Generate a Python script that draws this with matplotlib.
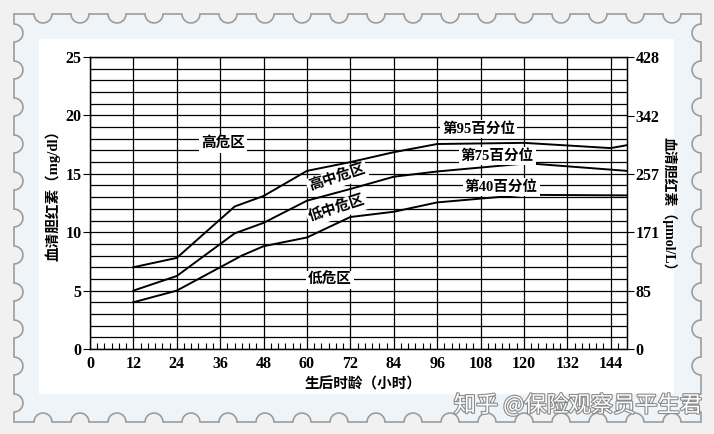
import numpy as np
import matplotlib
matplotlib.use("Agg")
import matplotlib.pyplot as plt
from matplotlib.patches import Polygon, Rectangle
import matplotlib.patheffects as pe

plt.rcParams['font.family'] = ['Liberation Serif', 'Noto Sans CJK SC', 'DejaVu Sans']
plt.rcParams['font.weight'] = 'bold'

# percentile curves (hours after birth, serum bilirubin mg/dl)
hours95 = [12, 24, 40, 48, 60, 72, 84, 96, 120, 144, 148.5]
p95 = [7.0, 7.8, 12.2, 13.1, 15.25, 16.0, 16.85, 17.55, 17.65, 17.2, 17.45]
hours75 = [12, 24, 40, 48, 60, 72, 84, 96, 121, 148.5]
p75 = [5.0, 6.25, 9.9, 10.8, 12.7, 13.7, 14.75, 15.2, 15.9, 15.25]
hours40 = [12, 24, 42, 48, 60, 72, 84, 96, 120, 148.5]
p40 = [4.0, 5.0, 8.0, 8.8, 9.55, 11.3, 11.75, 12.55, 13.2, 13.15]

xticks = list(range(0, 145, 12))
yticks = [0, 5, 10, 15, 20, 25]
umol_ticks = [0, 85, 171, 257, 342, 428]

zones = ['高危区', '高中危区', '低中危区', '低危区']
zone_pos = [(36.8, 17.6, 0), (68.4, 14.6, 18), (68.4, 11.95, 18), (66.3, 5.9, 0)]
pct_labels = ['第95百分位', '第75百分位', '第40百分位']
pct_pos = [(107.5, 18.85), (112.6, 16.5), (113.7, 13.85)]

W, H = 714, 434
fig = plt.figure(figsize=(W / 100, H / 100), dpi=100)
fig.patch.set_facecolor('#f1f1f1')

# stamp-like frame
bg = fig.add_axes([0, 0, 1, 1], zorder=0)
bg.set_xlim(0, W)
bg.set_ylim(H, 0)
bg.axis('off')


def notched_edge(a, b, n, r=9, step=37):
    a, b, n = np.array(a, float), np.array(b, float), np.array(n, float)
    L = np.linalg.norm(b - a)
    d = (b - a) / L
    k = int(L // step)
    off = (L - (k - 1) * step) / 2
    pts = [a]
    t = np.linspace(np.pi, 0, 12)
    for i in range(k):
        c = a + (off + i * step) * d
        for tt in t:
            pts.append(c + r * np.cos(tt) * d + r * np.sin(tt) * n)
    return pts


x0, y0, x1, y1 = 14, 14, 701, 422
pts = []
pts += notched_edge((x0, y0), (x1, y0), (0, 1))
pts += notched_edge((x1, y0), (x1, y1), (-1, 0))
pts += notched_edge((x1, y1), (x0, y1), (0, -1))
pts += notched_edge((x0, y1), (x0, y0), (1, 0))
bg.add_patch(Polygon(np.array(pts), closed=True, facecolor='#eef4f8',
                     edgecolor='#9c9c9c', linewidth=1.2))
bg.add_patch(Rectangle((39, 39), 635, 355, facecolor='white', edgecolor='none'))

ax = fig.add_axes([90 / W, 1 - 349 / H, (627 - 90) / W, (349 - 57) / H], zorder=2)
ax.patch.set_alpha(0)
ax.set_xlim(0, 148.5)
ax.set_ylim(0, 25)
ax.set_xticks(xticks)
ax.set_xticks(np.arange(0, 148, 2), minor=True)
ax.set_yticks(yticks)
ax.set_yticks(range(0, 26), minor=True)
ax.grid(which='major', axis='x', color='black', linewidth=0.9)
ax.grid(which='both', axis='y', color='black', linewidth=0.9)
ax.tick_params(axis='x', which='major', length=0, pad=5, labelsize=11.5)
ax.tick_params(axis='x', which='minor', direction='in', length=4, width=0.8)
ax.tick_params(axis='y', which='major', direction='out', length=5, width=0.8, labelsize=11.5, pad=1)
ax.tick_params(axis='y', which='minor', length=0)
for s in ax.spines.values():
    s.set_linewidth(0.9)

for hx, py in [(hours95, p95), (hours75, p75), (hours40, p40)]:
    ax.plot(hx, py, color='black', linewidth=1.4, clip_on=False)

box = dict(facecolor='white', edgecolor='none', pad=1.5)
for z, (zx, zy, rot) in zip(zones, zone_pos):
    ax.text(zx, zy, z, ha='center', va='center', rotation=rot, fontsize=10.5,
            bbox=box, zorder=4)
for lab, (lx, ly) in zip(pct_labels, pct_pos):
    ax.text(lx, ly, lab, ha='center', va='center', fontsize=10.5, bbox=box, zorder=4)

ax2 = ax.twinx()
ax2.set_ylim(0, 428)
ax2.set_yticks(umol_ticks)
ax2.tick_params(axis='y', direction='out', length=5, width=0.8, labelsize=11.5, pad=1)
for s in ax2.spines.values():
    s.set_linewidth(0.9)

fig.text(53 / W, 1 - 192 / H, '血清胆红素（mg/dl）', rotation=90, ha='center',
         va='center', fontsize=10.5)
fig.text(669 / W, 1 - 207 / H, '血清胆红素（μmol/L）', rotation=-90, ha='center',
         va='center', fontsize=10)
fig.text(363 / W, 1 - 384 / H, '生后时龄（小时）', ha='center', va='center', fontsize=10.5)

fig.text(578 / W, 1 - 405 / H, '知乎 @保险观察员平生君', ha='center', va='center',
         fontsize=16, color='white', weight='normal', family=['Noto Sans CJK SC'],
         path_effects=[pe.withStroke(linewidth=1.6, foreground='#8a8a8a')])

fig.savefig('out.png', dpi=100, facecolor=fig.get_facecolor())
